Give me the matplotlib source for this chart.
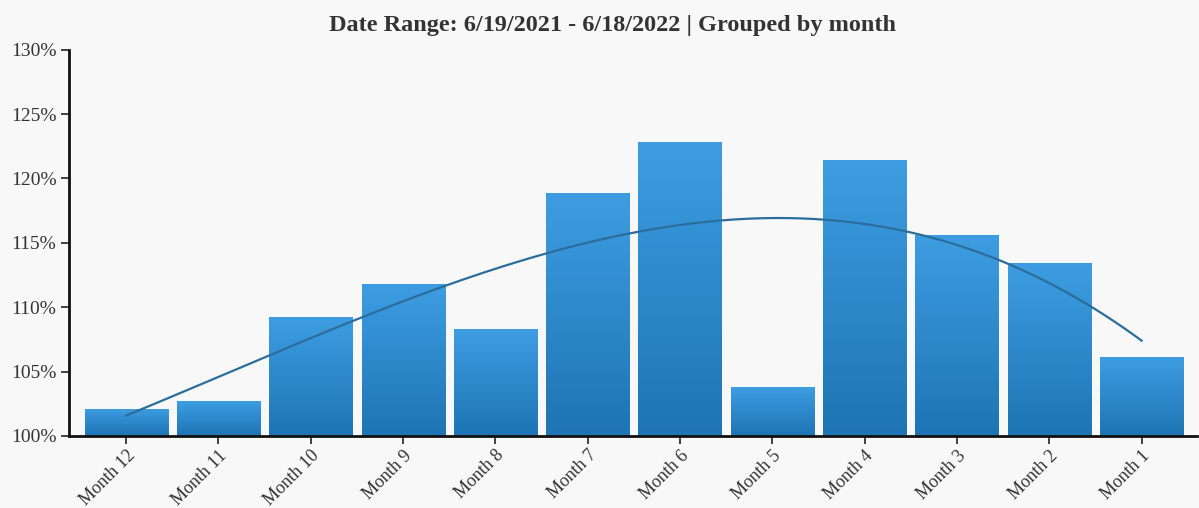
import matplotlib.pyplot as plt
import numpy as np
from matplotlib.colors import LinearSegmentedColormap

# Monthly values (percent)
months = ["Month 12", "Month 11", "Month 10", "Month 9", "Month 8", "Month 7",
          "Month 6", "Month 5", "Month 4", "Month 3", "Month 2", "Month 1"]
values = [102.1, 102.7, 109.2, 111.8, 108.3, 118.9,
          122.8, 103.8, 121.4, 115.6, 113.4, 106.1]
yticks = [100, 105, 110, 115, 120, 125, 130]

plt.rcParams['font.family'] = ['Liberation Serif', 'DejaVu Serif']

bg = '#f8f8f8'
fig = plt.figure(figsize=(11.99, 5.08), dpi=100, facecolor=bg)
ax = fig.add_axes([0.0575, 0.142, 0.9408, 0.76])
ax.set_facecolor(bg)

x = np.arange(len(months))
bars = ax.bar(x, np.array(values) - 100, bottom=100, width=0.9, color='none')

# vertical gradient inside each bar
cmap = LinearSegmentedColormap.from_list('barfade', ['#1e74b4', '#3e9de2'])
grad = np.linspace(0, 1, 256).reshape(-1, 1)
for b in bars:
    x0, y0 = b.get_x(), b.get_y()
    w, h = b.get_width(), b.get_height()
    im = ax.imshow(grad, cmap=cmap, origin='lower', aspect='auto',
                   extent=[x0, x0 + w, y0, y0 + h], zorder=2)
    im.set_clip_path(b)

# polynomial trend line through the monthly values
coef = np.polyfit(x, values, 3)
xs = np.linspace(0, len(months) - 1, 200)
ax.plot(xs, np.polyval(coef, xs), color='#2b6e9c', lw=1.6, zorder=3)

ax.set_xlim(-0.62, len(months) - 0.4)
ax.set_ylim(100, 130)
ax.set_yticks(yticks)
ax.set_yticklabels([f"{t}%" for t in yticks])
ax.set_xticks(x)
ax.set_xticklabels(months, rotation=45, ha='right', rotation_mode='anchor')

for side in ['top', 'right']:
    ax.spines[side].set_visible(False)
for side in ['left', 'bottom']:
    ax.spines[side].set_linewidth(2)
    ax.spines[side].set_color('#111111')
ax.tick_params(axis='both', length=6, width=1.2, color='#222222',
               labelcolor='#333333', pad=3)
ax.tick_params(axis='y', labelsize=14)
ax.tick_params(axis='x', labelsize=13, pad=2)

fig.text(0.511, 0.95, "Date Range: 6/19/2021 - 6/18/2022 | Grouped by month",
         ha='center', va='center', fontsize=17.5, fontweight='bold', color='#333333')

fig.savefig('out.png', dpi=100, facecolor=bg)
